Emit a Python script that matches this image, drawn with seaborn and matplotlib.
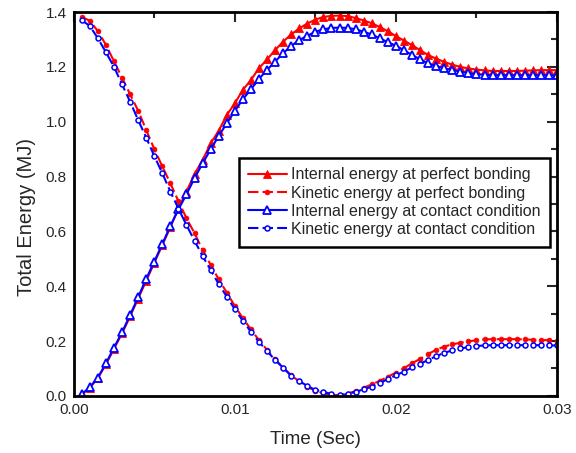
import numpy as np
import pandas as pd
import matplotlib
matplotlib.use("Agg")
import matplotlib.pyplot as plt
import seaborn as sns

# ---- data ----
time = [round(0.0005 * k, 4) for k in range(1, 61)]

internal_perfect = [0.005, 0.030, 0.065, 0.115, 0.172, 0.228, 0.290, 0.355, 0.420, 0.485,
                    0.550, 0.615, 0.685, 0.745, 0.809, 0.860, 0.921, 0.967, 1.024, 1.067,
                    1.116, 1.152, 1.195, 1.227, 1.261, 1.292, 1.318, 1.340, 1.358, 1.372,
                    1.382, 1.386, 1.387, 1.385, 1.378, 1.369, 1.359, 1.345, 1.330, 1.312,
                    1.296, 1.279, 1.261, 1.243, 1.230, 1.218, 1.208, 1.200, 1.194, 1.190,
                    1.187, 1.185, 1.185, 1.185, 1.185, 1.186, 1.187, 1.188, 1.188, 1.188]

kinetic_perfect = [1.382, 1.368, 1.330, 1.280, 1.220, 1.160, 1.100, 1.040, 0.970, 0.900,
                   0.837, 0.775, 0.710, 0.648, 0.593, 0.532, 0.478, 0.425, 0.377, 0.328,
                   0.283, 0.243, 0.203, 0.168, 0.133, 0.103, 0.075, 0.053, 0.033, 0.019,
                   0.010, 0.004, 0.003, 0.008, 0.018, 0.030, 0.042, 0.055, 0.070, 0.085,
                   0.101, 0.119, 0.135, 0.153, 0.168, 0.180, 0.188, 0.194, 0.199, 0.203,
                   0.206, 0.207, 0.207, 0.207, 0.207, 0.206, 0.205, 0.204, 0.203, 0.202]

internal_contact = [0.006, 0.032, 0.067, 0.119, 0.176, 0.232, 0.295, 0.360, 0.427, 0.490,
                    0.554, 0.620, 0.680, 0.735, 0.794, 0.848, 0.899, 0.948, 0.994, 1.039,
                    1.082, 1.118, 1.156, 1.189, 1.219, 1.250, 1.276, 1.298, 1.313, 1.328,
                    1.337, 1.342, 1.343, 1.342, 1.337, 1.328, 1.318, 1.304, 1.290, 1.277,
                    1.261, 1.243, 1.228, 1.213, 1.203, 1.195, 1.189, 1.183, 1.177, 1.173,
                    1.171, 1.169, 1.169, 1.169, 1.169, 1.169, 1.169, 1.169, 1.169, 1.169]

kinetic_contact = [1.370, 1.349, 1.304, 1.253, 1.200, 1.136, 1.073, 1.006, 0.942, 0.875,
                   0.812, 0.745, 0.683, 0.623, 0.566, 0.510, 0.459, 0.408, 0.362, 0.316,
                   0.274, 0.234, 0.197, 0.164, 0.131, 0.103, 0.073, 0.055, 0.036, 0.022,
                   0.015, 0.007, 0.002, 0.007, 0.015, 0.024, 0.034, 0.046, 0.062, 0.075,
                   0.089, 0.104, 0.117, 0.131, 0.145, 0.157, 0.166, 0.173, 0.178, 0.182,
                   0.184, 0.185, 0.185, 0.185, 0.185, 0.185, 0.185, 0.185, 0.184, 0.184]

labels = ["Internal energy at perfect bonding",
          "Kinetic energy at perfect bonding",
          "Internal energy at contact condition",
          "Kinetic energy at contact condition"]

x_ticks = [0.00, 0.01, 0.02, 0.03]
y_ticks = [0.0, 0.2, 0.4, 0.6, 0.8, 1.0, 1.2, 1.4]

# ---- style ----
sns.set_style("white")
plt.rcParams["font.family"] = ["Liberation Sans", "DejaVu Sans"]
plt.rcParams["xtick.direction"] = "in"
plt.rcParams["ytick.direction"] = "in"

fig = plt.figure(figsize=(5.76, 4.53), dpi=100)
ax = fig.add_axes([0.128, 0.126, 0.839, 0.8475])

red = "#ff0000"
blue = "#0000ff"

series = [
    (internal_perfect, labels[0], dict(color=red, linestyle="-", marker="^", markersize=6,
                                       markerfacecolor=red, markeredgecolor=red, markeredgewidth=0.6)),
    (kinetic_perfect, labels[1], dict(color=red, linestyle=(0, (5, 2)), marker="o", markersize=3.4,
                                      markerfacecolor=red, markeredgecolor=red, markeredgewidth=0.6)),
    (internal_contact, labels[2], dict(color=blue, linestyle="-", marker="^", markersize=6,
                                       markerfacecolor="white", markeredgecolor=blue, markeredgewidth=1.3)),
    (kinetic_contact, labels[3], dict(color=blue, linestyle=(0, (5, 2)), marker="o", markersize=3.6,
                                      markerfacecolor="white", markeredgecolor=blue, markeredgewidth=1.1)),
]

for values, lab, kw in series:
    df = pd.DataFrame({"Time": time, "Energy": values})
    sns.lineplot(data=df, x="Time", y="Energy", ax=ax, label=lab, linewidth=1.5,
                 sort=False, estimator=None, **kw)

ax.set_xlim(0, 0.03)
ax.set_ylim(0, 1.4)
ax.set_xticks(x_ticks)
ax.set_xticklabels([f"{v:.2f}" for v in x_ticks])
ax.set_yticks(y_ticks)
ax.set_yticklabels([f"{v:.1f}" for v in y_ticks])
ax.set_xticks([0.005, 0.015, 0.025], minor=True)
ax.set_yticks([0.1, 0.3, 0.5, 0.7, 0.9, 1.1, 1.3], minor=True)
ax.tick_params(which="major", length=7, width=1.5, labelsize=11, top=True, right=True, pad=5)
ax.tick_params(which="minor", length=4, width=1.5, top=True, right=True)

for sp in ax.spines.values():
    sp.set_linewidth(2)
    sp.set_color("black")

ax.set_xlabel("Time (Sec)", fontsize=13.5, labelpad=10)
ax.set_ylabel("Total Energy (MJ)", fontsize=14.5)
ax.yaxis.set_label_coords(-0.078, 0.465)

leg = ax.legend(loc="upper right", bbox_to_anchor=(0.985, 0.62), fontsize=11.5,
                frameon=True, fancybox=False, edgecolor="black", framealpha=1,
                handlelength=2.4, handletextpad=0.25, borderpad=0.6, labelspacing=0.2,
                borderaxespad=0)
leg.get_frame().set_linewidth(1.8)

fig.savefig("out.png", dpi=100)
